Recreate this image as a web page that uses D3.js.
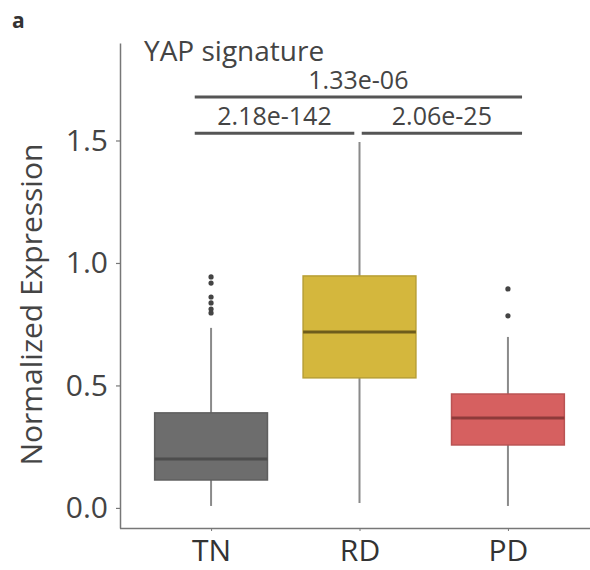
<!DOCTYPE html>
<html>
<head>
<meta charset="utf-8">
<script src="https://d3js.org/d3.v7.min.js"></script>
<style>
  body { margin: 0; background: #fff; }
  text { font-family: "Open Sans", sans-serif; }
</style>
</head>
<body>
<div id="chart"></div>
<script type="text/javascript">
// data
var groups = ["TN", "RD", "PD"];
var boxColors = ["#6d6d6d", "#d4b73d", "#d66060"];
var medianColors = ["#4d4d4d", "#6e5c1c", "#8e3a3a"];
var lowWhisker = [0.008, 0.02, 0.008];
var q1 = [0.114, 0.531, 0.257];
var medians = [0.2, 0.718, 0.367];
var q3 = [0.388, 0.947, 0.465];
var highWhisker = [0.735, 1.494, 0.698];
var outliersTN = [0.943, 0.918, 0.861, 0.837, 0.812, 0.796];
var outliersRD = [];
var outliersPD = [0.894, 0.784];
var yTicks = [0.0, 0.5, 1.0, 1.5];

// comparisons: from group, to group, bar level, p label
var compFrom = ["TN", "TN", "RD"];
var compTo = ["PD", "RD", "PD"];
var compLevel = [1.678, 1.53, 1.53];
var compLabel = ["1.33e-06", "2.18e-142", "2.06e-25"];

function drawChart() {
  var width = 590, height = 570;
  var left = 120, bottom = 528, topY = 43;

  var svg = d3.select("#chart").append("svg")
      .attr("width", width)
      .attr("height", height);

  // scales
  var x = d3.scalePoint().domain(groups).range([left + 2, left + 477]).padding(0.6);
  var y = d3.scaleLinear().domain([-0.082, 1.898]).range([bottom, topY]);
  var step = x.step();
  var boxW = step * 0.76;

  // axes
  var yAxis = svg.append("g")
      .attr("transform", "translate(" + left + ",0)")
      .call(d3.axisLeft(y).tickValues(yTicks).tickFormat(d3.format(".1f")).tickSize(4).tickPadding(8).tickSizeOuter(0));
  yAxis.select(".domain").attr("stroke", "#777").attr("stroke-width", 1.5);
  yAxis.selectAll(".tick line").attr("stroke", "#777").attr("stroke-width", 1.2);
  yAxis.selectAll(".tick text").attr("font-size", 30).attr("fill", "#444").attr("font-family", "Open Sans, sans-serif");

  var xAxis = svg.append("g")
      .attr("transform", "translate(0," + bottom + ")")
      .call(d3.axisBottom(x).tickSize(3).tickPadding(6).tickSizeOuter(0));
  xAxis.select(".domain").attr("stroke", "#777").attr("stroke-width", 1.5)
      .attr("d", "M" + left + ",0.5H" + width);
  xAxis.selectAll(".tick line").attr("stroke", "#777");
  xAxis.selectAll(".tick text").attr("font-size", 30).attr("fill", "#333").attr("font-family", "Open Sans, sans-serif")
      .attr("dy", "0.8em");

  // y label
  svg.append("text")
      .attr("transform", "translate(42," + y(0.83) + ") rotate(-90)")
      .attr("text-anchor", "middle")
      .attr("font-size", 30)
      .attr("fill", "#444")
      .text("Normalized Expression");

  // title and panel letter
  svg.append("text")
      .attr("x", 144).attr("y", 61)
      .attr("font-size", 28)
      .attr("fill", "#444")
      .text("YAP signature");
  svg.append("text")
      .attr("x", 12).attr("y", 28)
      .attr("font-size", 21)
      .attr("font-weight", "bold")
      .attr("fill", "#333")
      .text("a");

  // boxes
  var outliers = [outliersTN, outliersRD, outliersPD];
  groups.forEach(function(g, i) {
    var cx = x(g);
    var gg = svg.append("g");
    gg.append("line")
        .attr("x1", cx).attr("x2", cx)
        .attr("y1", y(lowWhisker[i])).attr("y2", y(highWhisker[i]))
        .attr("stroke", "#8a8a8a").attr("stroke-width", 2);
    gg.append("rect")
        .attr("x", cx - boxW / 2).attr("width", boxW)
        .attr("y", y(q3[i])).attr("height", y(q1[i]) - y(q3[i]))
        .attr("fill", boxColors[i])
        .attr("stroke", d3.color(boxColors[i]).darker(0.4))
        .attr("stroke-width", 1.5);
    gg.append("line")
        .attr("x1", cx - boxW / 2).attr("x2", cx + boxW / 2)
        .attr("y1", y(medians[i])).attr("y2", y(medians[i]))
        .attr("stroke", medianColors[i]).attr("stroke-width", 3);
    gg.selectAll("circle").data(outliers[i]).enter().append("circle")
        .attr("cx", cx).attr("cy", function(d) { return y(d); })
        .attr("r", 2.6).attr("fill", "#444");
  });

  // significance bars
  var startOff = [-0.11, -0.11, 0.015];
  var endOff = [0.095, -0.035, 0.095];
  compFrom.forEach(function(f, i) {
    var x1 = x(f) + startOff[i] * step;
    var x2 = x(compTo[i]) + endOff[i] * step;
    svg.append("line")
        .attr("x1", x1).attr("x2", x2)
        .attr("y1", y(compLevel[i])).attr("y2", y(compLevel[i]))
        .attr("stroke", "#555").attr("stroke-width", 3);
    svg.append("text")
        .attr("x", (x1 + x2) / 2).attr("y", y(compLevel[i]) - 8)
        .attr("text-anchor", "middle")
        .attr("font-size", 25)
        .attr("fill", "#444")
        .text(compLabel[i]);
  });
}
drawChart();
</script>
</body>
</html>
